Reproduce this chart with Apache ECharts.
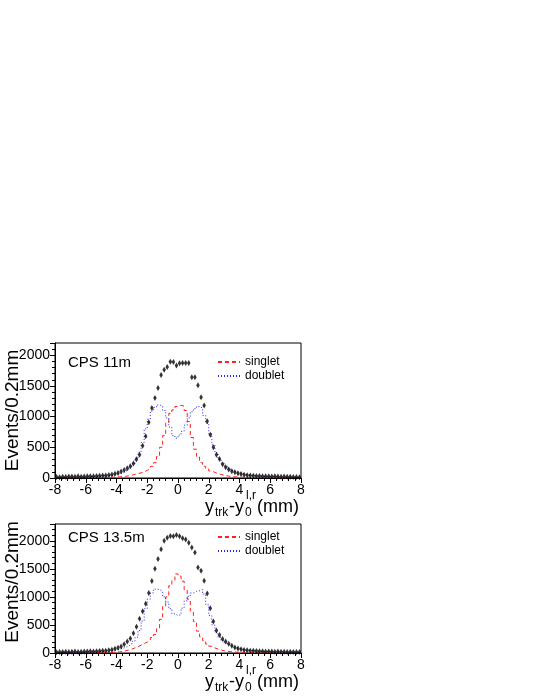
<!DOCTYPE html>
<html><head><meta charset="utf-8">
<script src="https://cdn.jsdelivr.net/npm/echarts@6/dist/echarts.min.js"></script>
<style>html,body{margin:0;padding:0;background:#fff}#c{width:540px;height:699px}</style>
</head><body><div id="c"></div>
<script>
const binCenters = [
 -7.9,-7.7,-7.5,-7.3,-7.1,-6.9,-6.7,-6.5,-6.3,-6.1,
 -5.9,-5.7,-5.5,-5.3,-5.1,-4.9,-4.7,-4.5,-4.3,-4.1,
 -3.9,-3.7,-3.5,-3.3,-3.1,-2.9,-2.7,-2.5,-2.3,-2.1,
 -1.9,-1.7,-1.5,-1.3,-1.1,-0.9,-0.7,-0.5,-0.3,-0.1,
 0.1,0.3,0.5,0.7,0.9,1.1,1.3,1.5,1.7,1.9,
 2.1,2.3,2.5,2.7,2.9,3.1,3.3,3.5,3.7,3.9,
 4.1,4.3,4.5,4.7,4.9,5.1,5.3,5.5,5.7,5.9,
 6.1,6.3,6.5,6.7,6.9,7.1,7.3,7.5,7.7,7.9];

const panelLabels = ['CPS 11m', 'CPS 13.5m'];
const seriesNames = ['singlet', 'doublet'];

const cps11Data = [
 18,14,22,16,24,26,22,28,20,24,
 28,30,28,34,36,40,42,48,56,68,
 82,105,130,158,190,235,305,380,525,680,
 910,1140,1305,1465,1680,1765,1810,1895,1890,1835,
 1870,1875,1875,1875,1640,1640,1510,1315,1180,925,
 705,500,380,310,225,175,140,112,95,78,
 65,55,46,40,38,34,32,30,27,30,
 25,27,24,22,25,20,22,18,15,12];
const cps11Singlet = [
 2,2,3,2,3,3,3,4,4,4,
 5,5,6,7,8,9,10,12,14,17,
 20,22,28,36,48,58,70,85,100,125,
 150,190,250,350,500,690,900,1050,1110,1165,
 1185,1170,1100,920,660,470,350,250,190,155,
 115,90,72,58,45,35,27,22,18,15,
 12,10,9,8,7,6,5,5,4,4,
 4,3,3,3,2,2,2,2,1,1];
const cps11Doublet = [
 12,10,14,12,15,16,15,18,16,18,
 20,22,22,25,27,30,33,38,45,55,
 68,85,110,140,175,230,320,420,580,800,
 960,1090,1150,1190,1175,1100,980,830,690,650,
 700,760,860,980,1080,1130,1165,1140,1020,890,
 720,540,410,310,240,195,160,125,100,85,
 70,58,50,44,38,33,30,27,25,23,
 21,19,18,16,15,14,13,12,11,10];

const cps135Data = [
 14,18,20,22,18,22,25,20,24,28,
 26,30,28,32,35,38,42,48,58,75,
 92,118,158,205,260,350,470,610,745,880,
 1070,1285,1500,1675,1850,2000,2055,2085,2080,2105,
 2080,2045,2025,1965,1880,1790,1525,1465,1290,1060,
 800,560,400,320,250,205,165,130,100,82,
 68,55,48,42,38,35,32,30,28,26,
 28,24,25,22,24,20,22,18,20,16];
const cps135Singlet = [
 1,1,2,2,2,2,3,3,3,4,
 4,5,5,6,7,8,9,10,12,15,
 20,28,40,55,70,90,110,140,165,195,
 230,275,330,430,600,830,1000,1200,1300,1410,
 1370,1280,1130,960,750,560,390,290,220,160,
 120,90,70,52,40,32,25,20,16,13,
 11,9,8,7,6,5,5,4,4,3,
 3,3,2,2,2,2,1,1,1,1];
const cps135Doublet = [
 10,12,11,13,12,14,15,14,16,18,
 19,21,22,25,28,31,35,40,46,55,
 68,82,100,125,160,210,280,400,570,790,
 960,1070,1140,1130,1100,1000,910,790,700,670,
 680,800,930,1010,1070,1100,1110,1130,1050,860,
 670,500,365,280,220,175,140,115,95,80,
 68,58,50,44,38,34,30,27,25,23,
 21,19,18,16,15,14,13,12,11,10];

function histPts(vals) {
  const w = binCenters[1] - binCenters[0];
  const pts = vals.map((v, i) => [binCenters[i] - w / 2, v]);
  pts.push([binCenters[binCenters.length - 1] + w / 2, vals[vals.length - 1]]);
  return pts;
}
function dataPts(vals) { return vals.map((v, i) => [binCenters[i], v]); }

const FONT = 'Liberation Sans, Arial, Helvetica, sans-serif';
const grids = [
  { left: 55, top: 343, width: 246, height: 135 },
  { left: 55, top: 524, width: 246, height: 129 }
];
const yMax = [2200, 2300];

function xAxisFor(g) {
  return {
    type: 'value', gridIndex: g, min: -8, max: 8, interval: 2,
    axisLine: { onZero: false, lineStyle: { color: '#000', width: 1 } },
    axisTick: { inside: false, length: 5, lineStyle: { color: '#000' } },
    minorTick: { show: true, splitNumber: 5, length: 3, lineStyle: { color: '#000' } },
    splitLine: { show: false },
    axisLabel: { color: '#000', fontSize: 14, fontFamily: FONT, margin: 5,
      formatter: v => String(v) }
  };
}
function yAxisFor(g) {
  return {
    type: 'value', gridIndex: g, min: 0, max: yMax[g], interval: 500,
    name: 'Events/0.2mm', nameLocation: 'middle', nameRotate: 90, nameGap: 33,
    nameMoveOverlap: false,
    nameTextStyle: { color: '#000', fontSize: 19, fontFamily: FONT,
      padding: g === 1 ? [0, 0, 0, 13] : [0, 0, 0, 0] },
    axisLine: { show: true, onZero: false, lineStyle: { color: '#000', width: 1 } },
    axisTick: { inside: false, length: 5, lineStyle: { color: '#000' } },
    minorTick: { show: true, splitNumber: 5, length: 3, lineStyle: { color: '#000' } },
    splitLine: { show: false },
    axisLabel: { color: '#000', fontSize: 14, fontFamily: FONT, margin: 5, showMaxLabel: false,
      formatter: v => String(v) }
  };
}

const panels = [
  { data: cps11Data, singlet: cps11Singlet, doublet: cps11Doublet },
  { data: cps135Data, singlet: cps135Singlet, doublet: cps135Doublet }
];
const series = [];
panels.forEach((p, g) => {
  series.push({
    name: seriesNames[0], type: 'line', xAxisIndex: g, yAxisIndex: g,
    data: histPts(p.singlet), step: 'end', symbol: 'none',
    lineStyle: { color: '#ff2020', width: 1, type: [4, 3] },
    itemStyle: { color: '#ff2020' }, z: 2
  });
  series.push({
    name: seriesNames[1], type: 'line', xAxisIndex: g, yAxisIndex: g,
    data: histPts(p.doublet), step: 'end', symbol: 'none',
    lineStyle: { color: '#2020ff', width: 1, type: [1, 2] },
    itemStyle: { color: '#2020ff' }, z: 2
  });
  series.push({
    name: 'data ' + panelLabels[g], type: 'scatter', xAxisIndex: g, yAxisIndex: g,
    data: dataPts(p.data), symbol: 'diamond', symbolSize: [3.5, 6],
    itemStyle: { color: '#000' }, z: 3
  });
});

function axisTitle(axisY) {
  const main = { fill: '#000', fontSize: 18, fontFamily: FONT };
  const sub = { fill: '#000', fontSize: 12, fontFamily: FONT };
  return [
    { type: 'text', left: 205, top: axisY + 20, style: Object.assign({ text: 'y' }, main) },
    { type: 'text', left: 215, top: axisY + 29, style: Object.assign({ text: 'trk' }, sub) },
    { type: 'text', left: 229, top: axisY + 20, style: Object.assign({ text: '-y' }, main) },
    { type: 'text', left: 245, top: axisY + 29, style: Object.assign({ text: '0' }, sub) },
    { type: 'text', left: 246, top: axisY + 12, style: Object.assign({ text: 'l,r' }, sub) },
    { type: 'text', left: 252, top: axisY + 20, style: Object.assign({ text: ' (mm)' }, main) }
  ];
}

const graphic = [
  { type: 'text', left: 68, top: 355, style: { text: panelLabels[0], fill: '#000', fontSize: 15, fontFamily: FONT } },
  { type: 'text', left: 68, top: 530, style: { text: panelLabels[1], fill: '#000', fontSize: 15, fontFamily: FONT } }
].concat(axisTitle(478), axisTitle(653));

const legendBase = {
  data: seriesNames, orient: 'vertical', left: 217, itemWidth: 22, itemHeight: 12, itemGap: 2,
  padding: 0, itemStyle: { opacity: 0 },
  textStyle: { color: '#000', fontSize: 12, fontFamily: FONT }, selectedMode: false
};

const chart = echarts.init(document.getElementById('c'), null, { renderer: 'canvas' });
chart.setOption({
  animation: false,
  backgroundColor: '#fff',
  grid: grids.map(g => Object.assign({ show: true, borderColor: '#000', borderWidth: 1,
    backgroundColor: 'transparent', containLabel: false, outerBoundsMode: 'none' }, g)),
  xAxis: [xAxisFor(0), xAxisFor(1)],
  yAxis: [yAxisFor(0), yAxisFor(1)],
  legend: [Object.assign({ top: 356 }, legendBase), Object.assign({ top: 531 }, legendBase)],
  graphic: graphic,
  series: series
});
</script></body></html>
